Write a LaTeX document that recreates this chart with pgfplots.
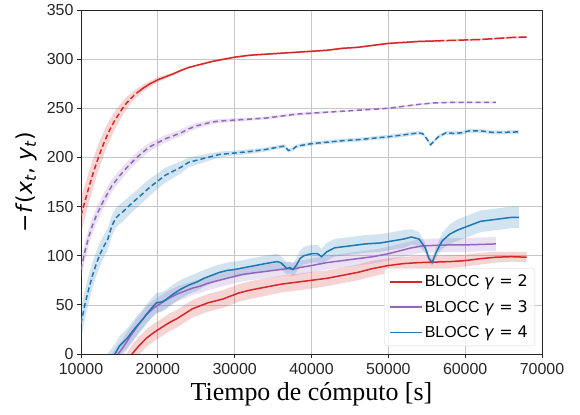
\documentclass[border=0pt]{standalone}
\usepackage{fontspec}
\setmainfont{Liberation Serif}
\setsansfont{Liberation Sans}
\newfontfamily\dejavu{DejaVu Sans}
\usepackage{pgfplots}
\pgfplotsset{compat=1.18}
\usepackage{pgfplotstable}
\usepgfplotslibrary{fillbetween}
\definecolor{cred}{HTML}{D62728}
\definecolor{cpur}{HTML}{9467BD}
\definecolor{cblu}{HTML}{1F77B4}

% upper curves: x, mean, half-width of band
\pgfplotstableread{
x m h
10000 141 18
10500 155 17
11000 169 16
11500 182 15
12000 194 14
12500 205 13
13000 215 12
13500 224 11
14000 232 10
14500 239 9
15000 245 8
15500 251 7
16000 256 6
16500 260 5
17000 264 4.5
17500 267 4
18000 270 3.5
19000 275 3
20000 279 2.5
21000 282 2
22000 285 1.5
23000 288.5 1.2
24000 291.5 1
25000 293.5 1
26000 295.5 1
27000 297.5 1
28000 299 1
29000 300.5 1
30000 302 1
32000 304 1
34000 305 1
36000 306 1
38000 307 1
40000 308 1
42000 309 1
44000 311 1
46000 312 1
48000 314 1
50000 316 1
52000 317 1
54000 318 1
56000 318.5 1
58000 319 1
60000 319.5 1
62000 320 1
64000 321 1
66000 322 1
68000 322.5 1
}\RU
\pgfplotstableread{
x m h
10000 86 9
10500 104 9
11000 119 8.5
11500 131 8
12000 141 8
12500 149 7.5
13000 157 7
13500 164 7
14000 171 6.5
14500 176 6
15000 181 6
16000 190 5.5
17000 198 5
18000 205 5
19000 211 4.5
20000 215 4
21000 219 4
22000 222 3.5
23000 225 3.5
24000 229 3
25000 232 3
26000 234 2.5
27000 236 2.5
28000 237 2
30000 238 2
32000 239 1.5
34000 240 1.5
36000 242 1.5
38000 244 1.5
40000 245 1.5
42000 246 1
44000 247 1
46000 248 1
48000 249 1
50000 250 1
52000 252 1
54000 254 1
56000 255.5 1
58000 256 1
60000 256 1
62000 256 1
64000 256 1
}\PU
\pgfplotstableread{
x m h
10000 31 16
10500 50 15
11000 66 14
11500 80 13
12000 92 12.5
12500 102 12
13000 110 11.5
13500 117 11
14000 130 10.5
14500 138 10
15000 142 10
15500 145 10
16000 149 9.5
17000 156 9
18000 163 9
19000 170 8.5
20000 176 8
21000 182 7.5
22000 186 7
23000 190 6
24000 195 5
25000 197 4.5
26000 199 4
27000 201 3.5
28000 203 3
30000 204.5 2.5
32000 206 2.5
34000 208 2
36000 211 2
36500 211.5 2
37000 207 2
37500 208 2
38000 211 2
38500 212 2
40000 214 2
42000 215.5 2
44000 217 2
46000 218 2
48000 219.5 2
50000 221 2
52000 223 2
54000 225 2
54500 224 2
55000 219 2
55500 213 2
56000 217 2
56500 221 2
57500 225 2
58500 224.5 2
59500 225 2
60500 227 2
62000 227 2
63500 225.5 2
65000 225.5 2
67000 226 2
}\BU
% lower curves
\pgfplotstableread{
x m h
14500 -25 9
15500 -14 9
16640 0 9
17500 8 9
18500 16 9
19500 22 9
20500 27 9
21500 32 9
22500 36 9
23500 41 9
24500 46 9
25500 49 9
26500 52 9
27500 54 9
28500 56 9
29500 59 9
30500 62 9
32000 65 9
34000 68 9
36000 71 8.5
38000 73 8.5
40000 75 8.5
42000 77 8
44000 80 8
46000 83 8
48000 87 8
50000 90 7.5
52000 92 7
54000 93 7
56000 93.5 6.5
58000 94 6.5
60000 95 6
62000 97 6
64000 98.5 5.5
66000 99 5
68000 98.5 5
}\RL
\pgfplotstableread{
x m h
13000 -20 9
14000 -8 9
14830 0 9
15500 7 9
16500 19 9
17500 30 8.5
18500 40 8.5
19500 47 8
20500 52 8
21500 57 8
22500 61 7.5
23500 64 7.5
24500 67 7
25500 69 7
26500 72 7
27500 74 7
28500 76 7
29500 78 7
31000 81 7
33000 83 7
35000 85 7
37000 87 7
37500 86 7
38500 88 7
40000 90 7
42000 93 7
44000 95 7
46000 97 7
48000 99 7
50000 102 7
51500 105 7
53000 108 7
54500 110 7
56000 110.5 7
58000 111 7
60000 111 7
62000 111.5 7
64000 112 7
}\PL
\pgfplotstableread{
x m h
12500 -20 10
13500 -9 10
14420 0 10
15000 8 10
16000 16 10
17000 26 10
18000 35 10
19000 45 10
19800 52 10
20500 53 10
21000 55 10
22000 61 9.5
23000 66 9.5
24000 70 9
25000 73 9
26000 77 8.5
27000 80 8.5
28000 83 8
29000 85 8
30000 86 8
32000 89 8
34000 92 8
35500 94 8
36000 93 7
36800 87 6
37200 88 6
37600 86 6
38000 90 7
38500 97 8
39000 100 9
40000 102 9
40800 102 9
41300 99 8
42000 104 9
43000 108 9
45000 110 9
47000 112 9
49000 113 9
50500 115 9
52000 117 9
53000 119 8
54000 117 7
54800 108 5
55300 97 4
55700 93 3
56200 103 5
57000 115 8
58000 122 10
59000 126 11
60000 129 11
61000 132 11
62000 135 11
63000 136 11
64000 137 11
65000 138 11
66000 139 11
67000 139 11
}\BL

\newcommand\band[3]{%
\addplot[draw=none, name path=#2A, forget plot] table[x=x, y expr=\thisrow{m}+\thisrow{h}]{#1};
\addplot[draw=none, name path=#2B, forget plot] table[x=x, y expr=\thisrow{m}-\thisrow{h}]{#1};
\addplot[fill=#3, fill opacity=0.2, draw=none, forget plot] fill between[of=#2A and #2B];
}

\begin{document}
\begin{tikzpicture}
\begin{axis}[
  name=ax, scale only axis, width=461bp, height=344bp,
  xmin=10000, xmax=70000, ymin=0, ymax=350,
  xtick={10000,20000,30000,40000,50000,60000,70000},
  ytick={0,50,100,150,200,250,300,350},
  scaled ticks=false,
  /pgf/number format/1000 sep={},
  /pgf/number format/assume math mode=true,
  tick label style={font=\sffamily\fontsize{16}{16}\selectfont, color=black!85},
  xticklabel style={yshift=-1.5bp},
  grid=major, grid style={color=black!22, line width=0.7bp},
  axis line style={line width=0.8bp, color=black!85},
  tick align=outside, major tick length=4bp,
  tick style={color=black!85, line width=0.8bp},
  xtick pos=lower, ytick pos=left,
  xlabel={\fontsize{26}{26}\selectfont Tiempo de cómputo [s]},
  xlabel style={at={(axis description cs:0.5,0)}, anchor=base, yshift=-46bp},
  ylabel={\dejavu\fontsize{22}{22}\selectfont −\textit{f}(\textit{x}\textsubscript{\textit{t}}, \textit{y}\textsubscript{\textit{t}})},
  ylabel style={at={(axis description cs:-0.119,0.5)}, anchor=center, rotate=0},
  legend style={at={(axis description cs:0.985,0.023)}, anchor=south east,
    font=\sffamily\fontsize{16}{16}\selectfont, draw=black!15, fill=white,
    fill opacity=0.8, text opacity=1, rounded corners=3bp,
    inner xsep=5bp, inner ysep=5bp, row sep=8bp},
  legend cell align=left,
  legend image code/.code={\draw[#1, line width=1.5bp] (0bp,0bp) -- (32bp,0bp);},
]
\band{\RU}{ru}{cred}
\band{\PU}{pu}{cpur}
\band{\BU}{bu}{cblu}
\band{\RL}{rl}{cred}
\band{\PL}{pl}{cpur}
\band{\BL}{bl}{cblu}

\addplot[cred, line width=1.5bp, dash pattern=on 5bp off 3bp, forget plot, restrict x to domain=10000:17500] table[x=x,y=m]{\RU};
\addplot[cred, line width=1.5bp, forget plot, restrict x to domain=17500:56000] table[x=x,y=m]{\RU};
\addplot[cred, line width=1.5bp, dash pattern=on 10bp off 2bp, forget plot, restrict x to domain=56000:68000] table[x=x,y=m]{\RU};
\addplot[cpur, line width=1.5bp, dash pattern=on 5bp off 3.5bp, forget plot] table[x=x,y=m]{\PU};
\addplot[cblu, line width=1.5bp, dash pattern=on 5bp off 3bp, forget plot] table[x=x,y=m]{\BU};

\addplot[cred, line width=1.5bp] table[x=x,y=m]{\RL};
\addlegendentry{BLOCC {\dejavu\textit{γ} = 2}}
\addplot[cpur, line width=1.5bp] table[x=x,y=m]{\PL};
\addlegendentry{BLOCC {\dejavu\textit{γ} = 3}}
\addplot[cblu, line width=1.5bp] table[x=x,y=m]{\BL};
\addlegendentry{BLOCC {\dejavu\textit{γ} = 4}}
\end{axis}
\path ([shift={(-81bp,-61bp)}]ax.south west) rectangle ([shift={(38bp,10bp)}]ax.north east);
\end{tikzpicture}
\end{document}
